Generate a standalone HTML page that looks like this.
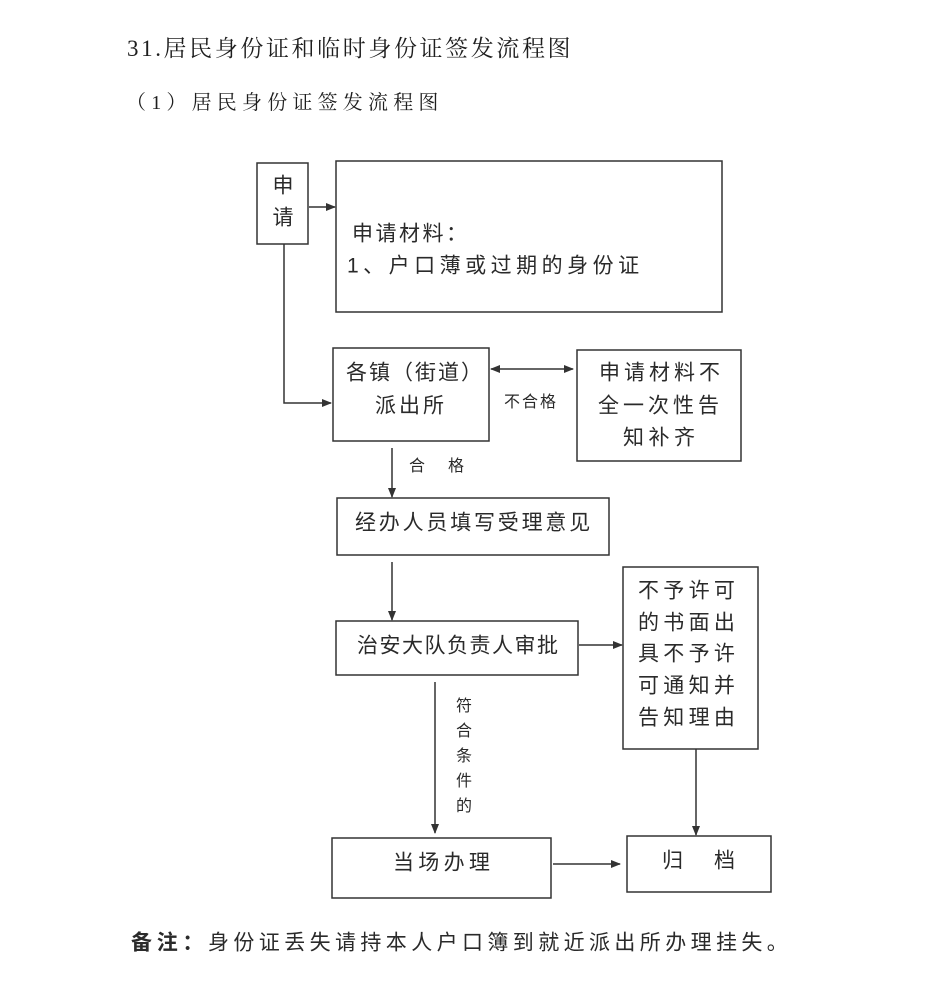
<!DOCTYPE html>
<html>
<head>
<meta charset="utf-8">
<style>
  html, body { margin: 0; padding: 0; background: #ffffff; }
  body { width: 950px; height: 1001px; overflow: hidden; }
  svg { display: block; }
  .t { font-family: "Liberation Sans", "Noto Sans CJK SC", sans-serif; fill: #2a2a2a; }
  .s { font-family: "Liberation Serif", "Noto Serif CJK SC", serif; fill: #1e1e1e; }
</style>
</head>
<body>
<svg width="950" height="1001" viewBox="0 0 950 1001" xmlns="http://www.w3.org/2000/svg">
  <defs>
    <marker id="ah" markerWidth="10" markerHeight="8" refX="9" refY="4" orient="auto" markerUnits="userSpaceOnUse">
      <path d="M0,0 L10,4 L0,8 Z" fill="#333"/>
    </marker>
    <marker id="ahs" markerWidth="10" markerHeight="8" refX="1" refY="4" orient="auto" markerUnits="userSpaceOnUse">
      <path d="M10,0 L0,4 L10,8 Z" fill="#333"/>
    </marker>
  </defs>

  <!-- Titles -->
  <text class="s" x="127" y="56" font-size="23" style="letter-spacing:2.6px">31.居民身份证和临时身份证签发流程图</text>
  <text class="s" x="126" y="109" font-size="20" style="letter-spacing:5.2px">（1）居民身份证签发流程图</text>

  <g fill="none" stroke="#333" stroke-width="1.5">
    <!-- boxes -->
    <rect x="257" y="163" width="51" height="81"/>
    <rect x="336" y="161" width="386" height="151"/>
    <rect x="333" y="348" width="156" height="93"/>
    <rect x="577" y="350" width="164" height="111"/>
    <rect x="337" y="498" width="272" height="57"/>
    <rect x="336" y="621" width="242" height="54"/>
    <rect x="623" y="567" width="135" height="182"/>
    <rect x="332" y="838" width="219" height="60"/>
    <rect x="627" y="836" width="144" height="56"/>

    <!-- connectors -->
    <line x1="309" y1="207" x2="335" y2="207" marker-end="url(#ah)"/>
    <polyline points="284,244 284,403 331,403" marker-end="url(#ah)"/>
    <line x1="491" y1="369" x2="573" y2="369" marker-start="url(#ahs)" marker-end="url(#ah)"/>
    <line x1="392" y1="448" x2="392" y2="497" marker-end="url(#ah)"/>
    <line x1="392" y1="562" x2="392" y2="620" marker-end="url(#ah)"/>
    <line x1="579" y1="645" x2="622" y2="645" marker-end="url(#ah)"/>
    <line x1="435" y1="682" x2="435" y2="833" marker-end="url(#ah)"/>
    <line x1="553" y1="864" x2="620" y2="864" marker-end="url(#ah)"/>
    <line x1="696" y1="749" x2="696" y2="835" marker-end="url(#ah)"/>
  </g>

  <!-- 申请 -->
  <text class="t" x="283" y="192.5" font-size="21" text-anchor="middle">申</text>
  <text class="t" x="283" y="224.5" font-size="21" text-anchor="middle">请</text>

  <!-- 申请材料 -->
  <text class="t" x="352" y="240.5" font-size="21" style="letter-spacing:2.5px">申请材料：</text>
  <text class="t" x="347" y="272.5" font-size="21" style="letter-spacing:4.5px">1、户口薄或过期的身份证</text>

  <!-- 派出所 -->
  <text class="t" x="346" y="379.5" font-size="21" style="letter-spacing:2px">各镇（街道）</text>
  <text class="t" x="375" y="412.5" font-size="21" style="letter-spacing:3px">派出所</text>

  <!-- 不合格 -->
  <text class="t" x="504" y="407" font-size="16" style="letter-spacing:2px">不合格</text>

  <!-- right box -->
  <text class="t" x="599" y="379.5" font-size="21" style="letter-spacing:4px">申请材料不</text>
  <text class="t" x="598" y="412.5" font-size="21" style="letter-spacing:4px">全一次性告</text>
  <text class="t" x="623" y="444.5" font-size="21" style="letter-spacing:4.5px">知补齐</text>

  <!-- 合格 -->
  <text class="t" x="409" y="471" font-size="16">合</text>
  <text class="t" x="448" y="471" font-size="16">格</text>

  <!-- 经办 -->
  <text class="t" x="355" y="529.5" font-size="21" style="letter-spacing:2.8px">经办人员填写受理意见</text>

  <!-- 治安 -->
  <text class="t" x="357" y="652.5" font-size="21" style="letter-spacing:1.5px">治安大队负责人审批</text>

  <!-- 不予许可 -->
  <text class="t" x="638" y="597.5" font-size="21" style="letter-spacing:4.3px">不予许可</text>
  <text class="t" x="638" y="629.5" font-size="21" style="letter-spacing:4.3px">的书面出</text>
  <text class="t" x="638" y="660.5" font-size="21" style="letter-spacing:4.3px">具不予许</text>
  <text class="t" x="638" y="692.5" font-size="21" style="letter-spacing:4.3px">可通知并</text>
  <text class="t" x="638" y="724.5" font-size="21" style="letter-spacing:4.3px">告知理由</text>

  <!-- 符合条件的 -->
  <text class="t" x="464" y="711" font-size="16" text-anchor="middle">符</text>
  <text class="t" x="464" y="736" font-size="16" text-anchor="middle">合</text>
  <text class="t" x="464" y="761" font-size="16" text-anchor="middle">条</text>
  <text class="t" x="464" y="786" font-size="16" text-anchor="middle">件</text>
  <text class="t" x="464" y="811" font-size="16" text-anchor="middle">的</text>

  <!-- 当场办理 -->
  <text class="t" x="393" y="869.5" font-size="21" style="letter-spacing:4.3px">当场办理</text>

  <!-- 归档 -->
  <text class="t" x="662" y="867.5" font-size="21">归</text>
  <text class="t" x="714" y="867.5" font-size="21">档</text>

  <!-- 备注 -->
  <text class="t" x="131" y="949.5" font-size="21" font-weight="bold" style="letter-spacing:4.7px">备注：</text>
  <text class="t" x="208" y="949.5" font-size="21" style="letter-spacing:4.4px">身份证丢失请持本人户口簿到就近派出所办理挂失。</text>
</svg>
</body>
</html>
